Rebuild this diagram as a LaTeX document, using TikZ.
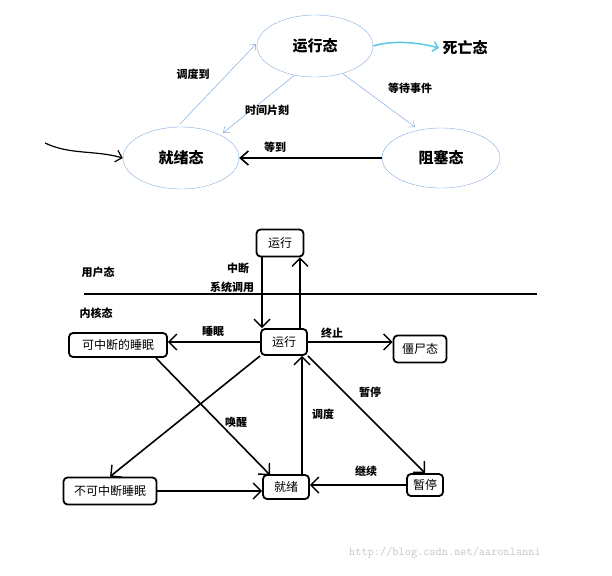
\documentclass[tikz,border=0pt]{standalone}
\usepackage{fontspec}
\setmainfont{Noto Sans CJK SC}
\usetikzlibrary{arrows.meta,shapes.geometric}
\definecolor{lb}{RGB}{130,170,225}
\definecolor{cy}{RGB}{90,200,230}
\tikzset{
 ell/.style={draw=lb,ellipse,minimum width=116pt,minimum height=62pt,font=\fontsize{15}{15}\selectfont\bfseries},
 thin/.style={draw=lb,line width=0.5pt,-{Straight Barb[length=5pt,width=8pt]}},
 box/.style={draw,line width=1.8pt,rounded corners=4pt,inner sep=0pt,font=\fontsize{12}{12}\selectfont},
 arr/.style={line width=1.6pt,-{Straight Barb[length=8pt,width=16pt,line width=1.4pt]}},
 lab/.style={font=\fontsize{11}{11}\selectfont\bfseries},
}
\begin{document}
\begin{tikzpicture}[x=1pt,y=-1pt]
\useasboundingbox (0,0) rectangle (612,575);
\node[ell] (run) at (315,46) {运行态};
\node[ell] (rdy) at (181,158) {就绪态};
\node[ell,minimum width=118pt,minimum height=60pt] (blk) at (441,158) {阻塞态};
\node[font=\fontsize{15}{15}\selectfont\bfseries] (dead) at (465,48) {死亡态};
\coordinate (a1) at (180,124); \coordinate (a2) at (256,44);
\draw[thin] (a1) -- (a2);
\draw[thin] (run.235) -- (223,133);
\draw[thin] (run.-45) -- (415,127);
\draw[line width=2pt,-{Straight Barb[length=8pt,width=14pt,line width=1.6pt]}] (blk.west) -- (rdy.east);
\draw[cy,line width=1.5pt,-{Straight Barb[length=5pt,width=10pt]}] (run.east) .. controls (385,42) and (410,40) .. (dead.west);
\coordinate (st) at (45,143);
\draw[line width=1.2pt,-{Straight Barb[length=6pt,width=12pt]}] (st) .. controls (70,155) and (95,150) .. (rdy.west);
\node[lab] (l1) at (193,74) {调度到};
\node[lab] (l2) at (267,110) {时间片刻};
\node[lab] (l3) at (410,88) {等待事件};
\node[lab] (l4) at (275,147) {等到};

\node[box,minimum width=47pt,minimum height=27pt] (urun) at (280,243) {运行};
\node[box,minimum width=46pt,minimum height=26pt] (krun) at (284,342) {运行};
\node[box,minimum width=98pt,minimum height=24pt] (isl) at (118,345) {可中断的睡眠};
\node[box,minimum width=53pt,minimum height=27pt] (zmb) at (420,349) {僵尸态};
\node[box,minimum width=93pt,minimum height=27pt] (usl) at (110,491) {不可中断睡眠};
\node[box,minimum width=46pt,minimum height=24pt] (rd) at (286,487) {就绪};
\node[box,minimum width=36pt,minimum height=22pt] (stp) at (425,485) {暂停};
\coordinate (l0) at (84,294); \coordinate (r0) at (537,294);
\draw[line width=1.8pt] (l0) -- (r0);
\node[lab] (us) at (98,272) {用户态};
\node[lab] (ks) at (96,313) {内核态};
\node[lab] (c1) at (238,268) {中断};
\node[lab] (c2) at (232,287) {系统调用};
\draw[arr] (urun.south -| 262,0) -- (krun.north -| 262,0);
\draw[arr] (krun.north -| 300,0) -- (urun.south -| 300,0);
\draw[arr] (krun.west) -- (krun.west -| isl.east);
\draw[arr] (krun.east) -- (krun.east -| zmb.west);
\draw[arr] (krun.south east) -- (stp.north);
\draw[arr] (krun.south west) -- (usl.north);
\draw[arr] (isl.south east) ++(-12,0) -- (270,475);
\draw[arr] (rd.north -| 302,0) -- (krun.south -| 302,0);
\draw[arr] (usl.east) -- (usl.east -| rd.west);
\draw[arr] (stp.west) -- (stp.west -| rd.east);
\node[lab] at (213,331) {睡眠};
\node[lab] at (332,333) {终止};
\node[lab] at (370,392) {暂停};
\node[lab] at (236,422) {唤醒};
\node[lab] at (323,414) {调度};
\node[lab] at (366,471) {继续};
\node[text=gray!45,font=\fontsize{12}{12}\ttfamily] at (445,553) {http://blog.csdn.net/aaronlanni};
\end{tikzpicture}
\end{document}
